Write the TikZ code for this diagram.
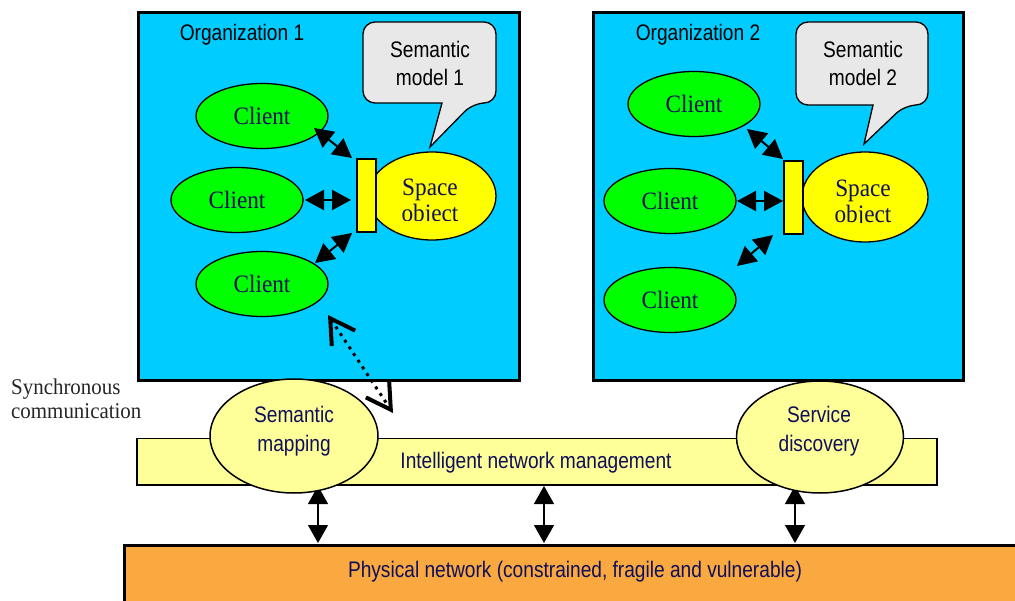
\documentclass[tikz,border=0pt]{standalone}
\usepackage{fontspec}
\setmainfont{Liberation Serif}
\newfontfamily\sansc{Liberation Sans}[FakeStretch=0.85]
\newfontfamily\serifc{Liberation Serif}[FakeStretch=0.93]
\usetikzlibrary{arrows.meta,shapes.geometric}
\definecolor{orgcyan}{HTML}{00CCFF}
\definecolor{cgreen}{HTML}{00FF00}
\definecolor{cyellow}{HTML}{FFFF00}
\definecolor{lyellow}{HTML}{FFFF99}
\definecolor{corange}{HTML}{FAA940}
\definecolor{cgray}{HTML}{E8E8E8}
\definecolor{navy}{RGB}{15,15,90}
\tikzset{
  orgbox/.style={draw, line width=3pt, fill=orgcyan, anchor=north west, inner sep=0pt},
  orglabel/.style={font=\sansc\fontsize{22.5}{27}\selectfont, text=black, inner sep=0pt},
  callout/.style={draw, line width=1.3pt, fill=cgray},
  calltext/.style={font=\sansc\fontsize{22.5}{28}\selectfont, align=center, text=black, inner sep=0pt},
  client/.style={ellipse, draw, line width=1.3pt, fill=cgreen, minimum width=132pt, minimum height=65pt, inner sep=0pt, font=\serifc\fontsize{25}{30}\selectfont, text=navy},
  spaceobj/.style={ellipse, draw, line width=1.3pt, fill=cyellow, inner sep=0pt},
  spacetext/.style={font=\serifc\fontsize{25}{26}\selectfont, align=center, text=navy, inner sep=0pt},
  port/.style={draw, line width=1.3pt, fill=cyellow, minimum width=19pt, minimum height=73pt, inner sep=0pt},
  carrow/.style={line width=2pt, {Triangle[length=19pt,width=20pt]}-{Triangle[length=19pt,width=20pt]}},
  varrow/.style={line width=1.3pt, {Triangle[length=18pt,width=20pt]}-{Triangle[length=18pt,width=20pt]}},
  darrow/.style={line width=3pt, dash pattern=on 3pt off 5pt, {Straight Barb[length=24pt,width=28pt,line width=4pt]}-{Straight Barb[length=24pt,width=28pt,line width=4pt]}},
  barbox/.style={draw, line width=1.5pt, fill=lyellow, anchor=north west, inner sep=0pt},
  mapell/.style={ellipse, draw, line width=1.5pt, fill=lyellow, inner sep=0pt, minimum width=168pt, minimum height=114pt},
  bluetext/.style={font=\sansc\fontsize{22.5}{29}\selectfont, align=center, text=navy, inner sep=0pt},
  physbox/.style={draw, line width=3pt, fill=corange, anchor=north west, inner sep=0pt},
  synctext/.style={font=\serifc\fontsize{22.5}{24}\selectfont, align=left, text=black!85, inner sep=0pt, anchor=west}
}
\begin{document}
\begin{tikzpicture}[x=1pt,y=-1pt]
\useasboundingbox (0,0) rectangle (1015,601);
\clip (0,0) rectangle (1015,601);
\fill[white] (0,0) rectangle (1015,601);

% organization boxes
\node[orgbox, minimum width=381pt, minimum height=368pt] (org1) at (137,11) {};
\node[orgbox, minimum width=370pt, minimum height=368pt] (org2) at (592,11) {};
\node[orglabel] (org1lab) at (242,35) {Organization 1};
\node[orglabel] (org2lab) at (698,35) {Organization 2};

% callouts
\filldraw[callout] (442,103) [rounded corners=12pt] -- (363,103) -- (363,22) -- (496,22) -- (496,103) -- (473,103) [sharp corners] -- (430,147) -- cycle;
\node[calltext] (sm1) at (430,63) {Semantic\\model 1};
\filldraw[callout] (873,105) [rounded corners=12pt] -- (796,105) -- (796,22) -- (928,22) -- (928,105) -- (905,105) [sharp corners] -- (864,144) -- cycle;
\node[calltext] (sm2) at (863,63) {Semantic\\model 2};

% space objects
\node[spaceobj, minimum width=128pt, minimum height=88pt] (so1) at (432,196) {};
\node[spaceobj, minimum width=126pt, minimum height=90pt] (so2) at (865,197) {};
\begin{scope}
\clip (360,150) rectangle (500,221);
\node[spacetext] (so1t) at (430,202.5) {Space\\object};
\end{scope}
\begin{scope}
\clip (800,150) rectangle (930,222.5);
\node[spacetext] (so2t) at (863,204) {Space\\object};
\end{scope}
\node[port] (p1) at (366.5,195.5) {};
\node[port] (p2) at (793.5,197.5) {};

% clients
\node[client] (c11) at (262,116) {Client};
\node[client] (c12) at (237,200) {Client};
\node[client] (c13) at (262,284) {Client};
\node[client] (c21) at (694,104) {Client};
\node[client] (c22) at (670,201) {Client};
\node[client] (c23) at (670,300) {Client};

% client arrows
\coordinate (a11) at (314,128); \coordinate (b11) at (352,158);
\coordinate (a12) at (305,200); \coordinate (b12) at (351,200);
\coordinate (a13) at (315,263); \coordinate (b13) at (352,233);
\coordinate (a21) at (747,129); \coordinate (b21) at (783,159);
\coordinate (a22) at (737,201); \coordinate (b22) at (783,201);
\coordinate (a23) at (737,266); \coordinate (b23) at (773,235);
\draw[carrow] (a11) -- (b11);
\draw[carrow] (a12) -- (b12);
\draw[carrow] (a13) -- (b13);
\draw[carrow] (a21) -- (b21);
\draw[carrow] (a22) -- (b22);
\draw[carrow] (a23) -- (b23);

% network management bar
\node[barbox, minimum width=800pt, minimum height=46pt] (bar) at (136,438) {};
\node[bluetext] (bartext) at (536,463) {Intelligent network management};

% physical network
\node[physbox, minimum width=920pt, minimum height=80pt] (phys) at (123,544) {};
\node[bluetext] (phystext) at (575,572) {Physical network (constrained, fragile and vulnerable)};

% vertical arrows
\coordinate (v1t) at (318,486); \coordinate (v1b) at (318,543);
\coordinate (v2t) at (544,486); \coordinate (v2b) at (544,543);
\coordinate (v3t) at (795,486); \coordinate (v3b) at (795,543);
\draw[varrow] (v1t) -- (v1b);
\draw[varrow] (v2t) -- (v2b);
\draw[varrow] (v3t) -- (v3b);

% mapping ellipses
\node[mapell] (smap) at (294,436) {};
\node[bluetext] (smapt) at (294,431) {Semantic\\mapping};
\node[mapell, minimum width=167pt, minimum height=112pt] (sdisc) at (820,437) {};
\node[bluetext] (sdisct) at (819,431) {Service\\discovery};

% synchronous communication
\node[synctext] (sync) at (11,399) {Synchronous\\communication};
\coordinate (dA) at (328,315); \coordinate (dB) at (393,413);
\draw[darrow] (dA) -- (dB);
\end{tikzpicture}
\end{document}
